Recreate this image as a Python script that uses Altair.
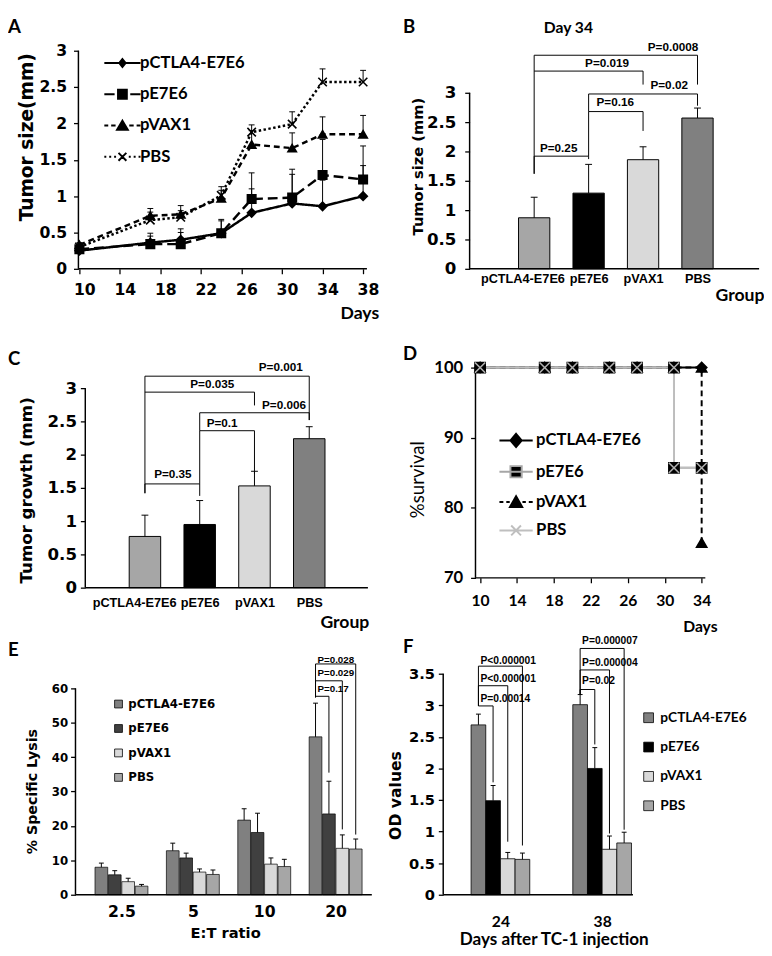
import json
import altair as alt
import pandas as pd

GROUPS = ["pCTLA4-E7E6", "pE7E6", "pVAX1", "PBS"]

# ---------------- Panel A : tumor size over time ----------------
A_DAYS = [10, 17, 20, 24, 27, 31, 34, 38]
A_CTLA4 = [0.25, 0.36, 0.40, 0.49, 0.77, 0.90, 0.86, 1.00]
A_E7E6 = [0.27, 0.34, 0.34, 0.49, 0.96, 0.98, 1.29, 1.23]
A_VAX1 = [0.33, 0.73, 0.75, 0.97, 1.71, 1.66, 1.85, 1.85]
A_PBS = [0.30, 0.67, 0.71, 1.01, 1.88, 1.99, 2.57, 2.57]
A_CTLA4_TOP = [0.28, 0.45, 0.50, 0.66, 1.10, 1.30, 1.22, 1.42]
A_E7E6_TOP = [0.30, 0.49, 0.55, 0.68, 1.32, 1.37, 1.78, 1.69]
A_VAX1_TOP = [0.36, 0.83, 0.87, 1.13, 1.90, 1.87, 2.09, 2.11]
A_PBS_TOP = [0.34, 0.78, 0.80, 1.08, 1.98, 2.16, 2.75, 2.73]
A_XTICKS = [10, 14, 18, 22, 26, 30, 34, 38]
A_YTICKS = [0, 0.5, 1, 1.5, 2, 2.5, 3]

# ---------------- Panel B : day 34 ----------------
B_MEAN = [0.87, 1.29, 1.86, 2.57]
B_TOP = [1.22, 1.78, 2.08, 2.74]
B_BR_LABEL = ["P=0.25", "P=0.16", "P=0.02", "P=0.019", "P=0.0008"]
B_BR_X1 = [1, 2, 2, 1, 1]
B_BR_X2 = [2, 3, 4, 3, 4]
B_BR_LEVEL = [1.92, 2.68, 2.98, 3.37, 3.64]
B_BR_LEFT = [1.62, 1.92, 2.68, 3.37, 1.62]
B_BR_RIGHT = [1.87, 2.35, 2.78, 3.14, 3.14]
B_BR_TX = [1.45, 2.49, 3.48, 2.34, 3.55]
B_BR_TY = [2.06, 2.85, 3.13, 3.50, 3.78]

# ---------------- Panel C : tumor growth ----------------
C_MEAN = [0.77, 0.95, 1.53, 2.24]
C_TOP = [1.09, 1.31, 1.75, 2.42]
C_BR_LABEL = ["P=0.35", "P=0.1", "P=0.006", "P=0.035", "P=0.001"]
C_BR_X1 = [1, 2, 2, 1, 1]
C_BR_X2 = [2, 3, 4, 3, 4]
C_BR_LEVEL = [1.56, 2.36, 2.63, 2.94, 3.18]
C_BR_LEFT = [1.42, 1.56, 2.36, 2.94, 1.42]
C_BR_RIGHT = [1.38, 1.71, 2.52, 2.74, 2.52]
C_BR_TX = [1.51, 2.41, 3.54, 2.23, 3.48]
C_BR_TY = [1.71, 2.47, 2.74, 3.06, 3.31]

# ---------------- Panel D : survival ----------------
D_CTLA4_DAYS = [10, 17, 20, 24, 27, 31, 34]
D_CTLA4_SURV = [100, 100, 100, 100, 100, 100, 100]
D_E7E6_DAYS = [10, 17, 20, 24, 27, 31, 31, 34]
D_E7E6_SURV = [100, 100, 100, 100, 100, 100, 85.7, 85.7]
D_VAX1_DAYS = [10, 17, 20, 24, 27, 31, 34, 34]
D_VAX1_SURV = [100, 100, 100, 100, 100, 100, 100, 75]
D_PBS_DAYS = [10, 17, 20, 24, 27, 31, 31, 34]
D_PBS_SURV = [100, 100, 100, 100, 100, 100, 85.7, 85.7]
D_XTICKS = [10, 14, 18, 22, 26, 30, 34]
D_YTICKS = [70, 80, 90, 100]

# ---------------- Panel E : CTL lysis ----------------
E_RATIO = ["2.5", "5", "10", "20"]
E_CTLA4 = [8.0, 12.8, 21.7, 45.9]
E_E7E6 = [5.8, 10.7, 18.1, 23.5]
E_VAX1 = [3.8, 6.6, 8.9, 13.5]
E_PBS = [2.5, 5.9, 8.2, 13.3]
E_CTLA4_TOP = [9.2, 15.0, 25.0, 55.7]
E_E7E6_TOP = [7.0, 12.1, 23.7, 33.0]
E_VAX1_TOP = [4.8, 7.5, 10.7, 17.4]
E_PBS_TOP = [3.0, 7.2, 10.3, 16.2]
E_YTICKS = [0, 10, 20, 30, 40, 50, 60]
E_BR_LABEL = ["P=0.17", "P=0.029", "P=0.028"]
E_BR_TO = [1, 2, 3]
E_BR_LEVEL = [57.7, 62.2, 67.1]
E_BR_LEFT = [57.4, 57.4, 57.4]
E_BR_RIGHT = [35.5, 19.0, 17.5]
E_BR_TY = [59.8, 64.5, 68.3]

# ---------------- Panel F : OD values ----------------
F_DAYS = ["24", "38"]
F_CTLA4 = [2.69, 3.01]
F_E7E6 = [1.49, 2.00]
F_VAX1 = [0.57, 0.72]
F_PBS = [0.56, 0.82]
F_CTLA4_TOP = [2.86, 3.17]
F_E7E6_TOP = [1.73, 2.33]
F_VAX1_TOP = [0.67, 0.93]
F_PBS_TOP = [0.66, 0.99]
F_YTICKS = [0, 0.5, 1, 1.5, 2, 2.5, 3, 3.5]
F_BR_LABEL = ["P=0.00014", "P<0.000001", "P<0.000001", "P=0.02", "P=0.000004", "P=0.000007"]
F_BR_GROUP = [0, 0, 0, 1, 1, 1]
F_BR_TO = [1, 2, 3, 1, 2, 3]
F_BR_LEVEL = [2.99, 3.31, 3.62, 3.25, 3.56, 3.90]
F_BR_LEFT = [2.99, 2.99, 2.99, 3.17, 3.17, 3.17]
F_BR_RIGHT = [1.78, 0.84, 0.78, 2.38, 0.97, 1.03]
F_BR_TY = [3.10, 3.41, 3.70, 3.39, 3.67, 4.01]

# ---------------- styling helpers ----------------
DV = "DejaVu Sans"
LATO = "Lato"
LIB = "Liberation Sans"
NARROW = "Liberation Sans Narrow, Liberation Sans"
BLACK = "black"
LETTER_Y = -33
NUM_FMT = ".1~f"


def lin(lo, hi):
    return alt.Scale(domain=[lo, hi], nice=False, zero=False)


def y_axis(values, title, lfont, lsize, tfont, tsize, tx, ty, offset, lpad, tweight="bold"):
    return alt.Axis(values=values, format=NUM_FMT, domain=False, grid=False, ticks=True,
                    tickSize=5, tickWidth=1.3, tickColor=BLACK,
                    labelFont=lfont, labelFontSize=lsize, labelFontWeight="bold",
                    labelColor=BLACK, labelPadding=lpad, labelFlush=False, labelOverlap=False,
                    title=title, titleFont=tfont, titleFontSize=tsize, titleFontWeight=tweight,
                    titleColor=BLACK, titleX=tx, titleY=ty, titleAngle=270,
                    titleAlign="center", titleBaseline="middle", offset=offset)


def x_axis(values, title, lfont, lsize, tfont, tsize, tx, ty, lpad, ticks=True,
           label_expr=None, talign="right", tbaseline="top", loffset=0):
    kw = dict(values=values, domain=False, grid=False, ticks=ticks, tickSize=5,
              tickWidth=1.3, tickColor=BLACK, labelFont=lfont, labelFontSize=lsize,
              labelFontWeight="bold", labelColor=BLACK, labelPadding=lpad, labelAngle=0,
              labelFlush=False, labelOverlap=False, labelOffset=loffset,
              title=title, titleFont=tfont, titleFontSize=tsize, titleFontWeight="bold",
              titleColor=BLACK, titleX=tx, titleY=ty, titleAlign=talign,
              titleBaseline=tbaseline)
    if label_expr:
        kw["labelExpr"] = label_expr
    else:
        kw["format"] = NUM_FMT
    return alt.Axis(**kw)


def lab_expr(labels, base):
    return json.dumps(labels) + f"[round(datum.value) - {base}]"


def first_label_shift(px):
    return {"condition": {"test": "datum.value < 1.5", "value": px}, "value": 0}


class Panel:
    """Holds one panel's shared scales and axes so every layer uses identical ones."""

    def __init__(self, xs, ys, ax, ay):
        self.xs, self.ys, self.ax, self.ay = xs, ys, ax, ay

    def X(self, f):
        return alt.X(f, type="quantitative", scale=self.xs, axis=self.ax)

    def Y(self, f):
        return alt.Y(f, type="quantitative", scale=self.ys, axis=self.ay)


def frame(p, x0, x1, y0, y1, sw=1.5):
    df = pd.DataFrame({"x0": [x0], "x1": [x1], "y0": [y0], "y1": [y1]})
    base = alt.Chart(df)
    yl = base.mark_rule(color=BLACK, strokeWidth=sw).encode(
        x=p.X("x0"), y=p.Y("y0"), y2="y1:Q")
    xl = base.mark_rule(color=BLACK, strokeWidth=sw).encode(
        x=p.X("x0"), x2="x1:Q", y=p.Y("y0"))
    return [yl, xl]


def err_layers(df, p, xf, capw, sw=1.0):
    r = alt.Chart(df).mark_rule(color=BLACK, strokeWidth=sw).encode(
        x=p.X(xf), y=p.Y("value"), y2="top:Q")
    c = alt.Chart(df).mark_point(shape="M-1,0L1,0", size=capw * capw, filled=False,
                                 color=BLACK, strokeWidth=sw, opacity=1).encode(
        x=p.X(xf), y=p.Y("top"))
    return [r, c]


def brackets(p, x1, x2, level, left, right, tx, ty, labels, font, size, align, dx):
    df = pd.DataFrame({"x1": x1, "x2": x2, "level": level, "left": left, "right": right,
                       "tx": tx, "ty": ty, "label": labels})
    base = alt.Chart(df)
    h = base.mark_rule(color=BLACK, strokeWidth=1).encode(
        x=p.X("x1"), x2="x2:Q", y=p.Y("level"))
    lft = base.mark_rule(color=BLACK, strokeWidth=1).encode(
        x=p.X("x1"), y=p.Y("level"), y2="left:Q")
    rgt = base.mark_rule(color=BLACK, strokeWidth=1).encode(
        x=p.X("x2"), y=p.Y("level"), y2="right:Q")
    txt = base.mark_text(font=font, fontSize=size, fontWeight="bold", color=BLACK,
                         align=align, baseline="middle", dx=dx).encode(
        x=p.X("tx"), y=p.Y("ty"), text="label:N")
    return [h, lft, rgt, txt]


def letter(t, px, py):
    return alt.Chart(pd.DataFrame({"t": [t]})).mark_text(
        align="left", baseline="top", font=LATO, fontSize=19, fontWeight="bold",
        color=BLACK).encode(text="t:N", x=alt.value(px), y=alt.value(py))


# ================= Panel A =================
a_rows = []
for name, vals, tops in zip(GROUPS, [A_CTLA4, A_E7E6, A_VAX1, A_PBS],
                            [A_CTLA4_TOP, A_E7E6_TOP, A_VAX1_TOP, A_PBS_TOP]):
    for d, v, t in zip(A_DAYS, vals, tops):
        a_rows.append({"series": name, "day": d, "value": v, "top": t})
df_a = pd.DataFrame(a_rows)
pA = Panel(lin(9.614, 38.378), lin(0, 3),
           x_axis(A_XTICKS, "Days", DV, 16, LATO, 18, 310, 37, 8, True, loffset=5),
           y_axis(A_YTICKS, "Tumor size(mm)", DV, 16, DV, 19, -53, 88, -3, 7))

X_PATH = "M-1,-1L1,1M-1,1L1,-1"
# legend glyphs: line pattern + marker (unit = 5 px)
A_LEG_PATHS = [
    "M-3.7,0L3.7,0M0,-0.8L0.65,0L0,0.8L-0.65,0Z",
    "M-3.7,0L-1.6,0M1.6,0L3.7,0M-0.9,-0.9L0.9,-0.9L0.9,0.9L-0.9,0.9Z",
    "M-3.7,0L-2.9,0M-2.3,0L-1.4,0M1.4,0L2.3,0M2.9,0L3.7,0M0,-1L1.1,0.85L-1.1,0.85Z",
    "M-3.7,0L-3.3,0M-2.7,0L-2.3,0M-1.7,0L-1.3,0M1.3,0L1.7,0M2.3,0L2.7,0M3.3,0L3.7,0"
    "M-0.8,-0.8L0.8,0.8M-0.8,0.8L0.8,-0.8",
]
A_LEG_COLORS = ["black", "black", "black", "black"]
legA = alt.Legend(orient="none", legendX=39.5, legendY=4, title=None, direction="vertical",
                  symbolSize=100, symbolStrokeWidth=2, symbolOpacity=1,
                  labelFont=LATO, labelFontSize=17, labelFontWeight="bold", labelColor=BLACK,
                  labelOffset=9.5, rowPadding=14, padding=0)

a_lines = alt.Chart(df_a).mark_line(color=BLACK, strokeWidth=2.5).encode(
    x=pA.X("day"), y=pA.Y("value"),
    strokeDash=alt.StrokeDash("series:N", scale=alt.Scale(domain=GROUPS,
                              range=[[1, 0], [10, 5], [6, 4], [2.5, 2.5]]), legend=None),
    detail="series:N")
a_points = alt.Chart(df_a).mark_point(filled=True, size=75, color=BLACK, stroke=BLACK,
                                      strokeWidth=1.6, opacity=1).encode(
    x=pA.X("day"), y=pA.Y("value"),
    shape=alt.Shape("series:N", scale=alt.Scale(domain=GROUPS,
                    range=["diamond", "square", "triangle-up", X_PATH]), legend=None))
a_legend = alt.Chart(df_a).transform_filter("false").mark_point(
    filled=True, size=100, strokeWidth=2, opacity=1).encode(
    x=pA.X("day"), y=pA.Y("value"),
    fill=alt.Fill("series:N", scale=alt.Scale(domain=GROUPS, range=A_LEG_COLORS), legend=legA),
    stroke=alt.Stroke("series:N", scale=alt.Scale(domain=GROUPS, range=A_LEG_COLORS), legend=legA),
    shape=alt.Shape("series:N", scale=alt.Scale(domain=GROUPS, range=A_LEG_PATHS), legend=legA))
panelA = alt.layer(
    a_lines, *frame(pA, 9.9035, 38.378, 0, 3),
    *err_layers(df_a, pA, "day", 6),
    a_points, a_legend, letter("A", -69, LETTER_Y),
).resolve_scale(shape="independent", fill="independent", stroke="independent"
                ).properties(width=298, height=223)


# ================= Panels B and C (bar charts) =================
def bar_panel(means, tops, colors, p, br, ax0, ax1, extra):
    df = pd.DataFrame({"series": GROUPS, "pos": [1, 2, 3, 4], "value": means, "top": tops})
    half = 0.2874
    bars = alt.Chart(df).transform_calculate(
        xa=f"datum.pos - {half}", xb=f"datum.pos + {half}", base="0").mark_bar(
        stroke=BLACK, strokeWidth=1).encode(
        x=p.X("xa"), x2="xb:Q", y=p.Y("value"), y2="base:Q",
        fill=alt.Fill("series:N", scale=alt.Scale(domain=GROUPS, range=colors), legend=None))
    return [bars, *frame(p, ax0, ax1, 0, 3), *err_layers(df, p, "pos", 7),
            *brackets(p, *br, LIB, 12, "center", 0), *extra]


BAR_COLORS = ["#a6a6a6", "#000000", "#d9d9d9", "#808080"]
pB = Panel(lin(-0.6706, 5.1316), lin(0, 3.717),
           x_axis([1, 2, 3, 4], "Group", LIB, 13, LATO, 18, 328, 18, 4, False,
                  label_expr=lab_expr(GROUPS, 1), loffset=first_label_shift(-12)),
           y_axis(A_YTICKS, "Tumor size (mm)", DV, 17, DV, 15, -53, 118, -27, 9))
day34 = alt.Chart(pd.DataFrame({"t": ["Day 34"]})).mark_text(
    font=LATO, fontSize=16, fontWeight="bold", color=BLACK, align="center",
    baseline="middle").encode(text="t:N", x=alt.value(128), y=alt.value(-23))
panelB = alt.layer(*bar_panel(
    B_MEAN, B_TOP, BAR_COLORS, pB,
    (B_BR_X1, B_BR_X2, B_BR_LEVEL, B_BR_LEFT, B_BR_RIGHT, B_BR_TX, B_BR_TY, B_BR_LABEL),
    -0.1856, 5.1316, [day34, letter("B", -41, LETTER_Y)])).properties(width=323, height=223)

pC = Panel(lin(-0.268, 5.071), lin(0, 3.5),
           x_axis([1, 2, 3, 4], "Group", LIB, 13, LATO, 18, 300, 27, 9, False,
                  label_expr=lab_expr(GROUPS, 1), loffset=first_label_shift(-11)),
           y_axis(A_YTICKS, "Tumor growth (mm)", DV, 17, DV, 17, -60, 138, -10, 4))
panelC = alt.layer(*bar_panel(
    C_MEAN, C_TOP, BAR_COLORS, pC,
    (C_BR_X1, C_BR_X2, C_BR_LEVEL, C_BR_LEFT, C_BR_RIGHT, C_BR_TX, C_BR_TY, C_BR_LABEL),
    -0.089, 5.071, [letter("C", -69, -5)])).properties(width=299, height=238)

# ================= Panel D =================
d_rows = []
for name, days, surv in zip(GROUPS, [D_CTLA4_DAYS, D_E7E6_DAYS, D_VAX1_DAYS, D_PBS_DAYS],
                            [D_CTLA4_SURV, D_E7E6_SURV, D_VAX1_SURV, D_PBS_SURV]):
    for i, (d, s) in enumerate(zip(days, surv)):
        d_rows.append({"series": name, "day": d, "surv": s, "i": i})
df_d = pd.DataFrame(d_rows)
pD = Panel(lin(6.006, 34.396), lin(70, 101.81),
           x_axis(D_XTICKS, "Days", LATO, 16, LATO, 16, 280, 42, 10, True),
           y_axis(D_YTICKS, "%survival", LATO, 17, LATO, 19, -59, 127, -33, 8, tweight="normal"))
D_LINE_COLOR = {"pCTLA4-E7E6": "#000000", "pE7E6": "#a6a6a6", "pVAX1": "#000000", "PBS": "#bfbfbf"}
D_LINE_DASH = {"pCTLA4-E7E6": [1, 0], "pE7E6": [1, 0], "pVAX1": [6, 4], "PBS": [1, 0]}
d_lines = []
for name in ["pCTLA4-E7E6", "pVAX1", "pE7E6", "PBS"]:
    d_lines.append(alt.Chart(df_d).transform_filter(alt.datum.series == name).mark_line(
        color=D_LINE_COLOR[name], strokeWidth=2, strokeDash=D_LINE_DASH[name]).encode(
        x=pD.X("day"), y=pD.Y("surv"), order="i:Q"))

D_LEG_PATHS = [
    "M-3.4,0L3.4,0M0,-1.35L1.15,0L0,1.35L-1.15,0Z",
    "M-3.4,0L3.4,0M-1.15,-1.15L1.15,-1.15L1.15,1.15L-1.15,1.15Z",
    "M-3.4,0L-2.6,0M-2,0L-1.3,0M1.3,0L2,0M2.6,0L3.4,0M0,-1.2L1.25,1L-1.25,1Z",
    "M-3.4,0L3.4,0M-1,-1L1,1M-1,1L1,-1",
]
D_LEG_FILL = ["black", "black", "black", "#bfbfbf"]
D_LEG_STROKE = ["black", "#a6a6a6", "black", "#bfbfbf"]
legD = alt.Legend(orient="none", legendX=66, legendY=79, title=None, direction="vertical",
                  symbolSize=100, symbolStrokeWidth=2, symbolOpacity=1,
                  labelFont=LATO, labelFontSize=17, labelFontWeight="bold", labelColor=BLACK,
                  labelOffset=12, rowPadding=10, padding=0)
D_MARK_COLORS = ["black", "black", "black", "#b0b0b0"]
d_points = alt.Chart(df_d).mark_point(filled=True, size=110, strokeWidth=1.6, opacity=1).encode(
    x=pD.X("day"), y=pD.Y("surv"),
    fill=alt.Fill("series:N", scale=alt.Scale(domain=GROUPS, range=D_MARK_COLORS), legend=None),
    stroke=alt.Stroke("series:N", scale=alt.Scale(domain=GROUPS, range=D_MARK_COLORS), legend=None),
    shape=alt.Shape("series:N", scale=alt.Scale(domain=GROUPS,
                    range=["diamond", "square", "triangle-up", X_PATH]), legend=None))
d_legend = alt.Chart(df_d).transform_filter("false").mark_point(
    filled=True, size=100, strokeWidth=2, opacity=1).encode(
    x=pD.X("day"), y=pD.Y("surv"),
    fill=alt.Fill("series:N", scale=alt.Scale(domain=GROUPS, range=D_LEG_FILL), legend=legD),
    stroke=alt.Stroke("series:N", scale=alt.Scale(domain=GROUPS, range=D_LEG_STROKE), legend=legD),
    shape=alt.Shape("series:N", scale=alt.Scale(domain=GROUPS, range=D_LEG_PATHS), legend=legD))
panelD = alt.layer(*d_lines, *frame(pD, 9.502, 34.396, 70, 100), d_points, d_legend,
                   letter("D", -41, -10)).resolve_scale(
    shape="independent", fill="independent", stroke="independent").properties(width=268, height=228)


# ================= Panels E and F (grouped bars) =================
def grouped_df(series_vals, series_tops, step):
    rows = []
    for k, (name, vals, tops) in enumerate(zip(GROUPS, series_vals, series_tops)):
        for g, (v, t) in enumerate(zip(vals, tops)):
            rows.append({"series": name, "g": g, "k": k, "value": v, "top": t,
                         "pos": g + (k - 1.5) * step})
    return pd.DataFrame(rows)


E_STEP = 0.1877
df_e = grouped_df([E_CTLA4, E_E7E6, E_VAX1, E_PBS],
                  [E_CTLA4_TOP, E_E7E6_TOP, E_VAX1_TOP, E_PBS_TOP], E_STEP)
pE = Panel(lin(-0.644, 3.507), lin(0, 64.26),
           x_axis([0, 1, 2, 3], "E:T ratio", DV, 16, DV, 15, 153, 39, 9, False,
                  label_expr=lab_expr(E_RATIO, 0), talign="center", tbaseline="middle"),
           y_axis(E_YTICKS, "% Specific Lysis", DV, 12, DV, 14.5, -44, 120, 0, 3))
E_COLORS = ["#808080", "#404040", "#d9d9d9", "#a6a6a6"]
legE = alt.Legend(orient="none", legendX=38, legendY=25, title=None, direction="vertical",
                  symbolType="square", symbolSize=64, symbolStrokeColor=BLACK,
                  symbolStrokeWidth=0.8, symbolOpacity=1,
                  labelFont=DV, labelFontSize=12, labelFontWeight="bold", labelColor=BLACK,
                  labelOffset=4, rowPadding=13, padding=0)
e_bars = alt.Chart(df_e).transform_calculate(
    xa="datum.pos - 0.089", xb="datum.pos + 0.089", base="0").mark_bar(
    stroke=BLACK, strokeWidth=0.7).encode(
    x=pE.X("xa"), x2="xb:Q", y=pE.Y("value"), y2="base:Q",
    fill=alt.Fill("series:N", scale=alt.Scale(domain=GROUPS, range=E_COLORS), legend=legE))
e_x1 = [3 + (0 - 1.5) * E_STEP for _ in E_BR_TO]
e_x2 = [3 + (k - 1.5) * E_STEP for k in E_BR_TO]
panelE = alt.layer(
    e_bars, *frame(pE, -0.644, 3.507, 0, 60), *err_layers(df_e, pE, "pos", 5),
    *brackets(pE, e_x1, e_x2, E_BR_LEVEL, E_BR_LEFT, E_BR_RIGHT, e_x1, E_BR_TY,
              E_BR_LABEL, NARROW, 10, "left", 2),
    letter("E", -69, LETTER_Y)).properties(width=303, height=226)

F_STEP = 0.1442
df_f = grouped_df([F_CTLA4, F_E7E6, F_VAX1, F_PBS],
                  [F_CTLA4_TOP, F_E7E6_TOP, F_VAX1_TOP, F_PBS_TOP], F_STEP)
pF = Panel(lin(-0.5625, 1.3029), lin(0, 3.5),
           x_axis([0, 1], "Days after TC-1 injection", LATO, 16, LATO, 17.5, 113, 46, 19,
                  False, label_expr=lab_expr(F_DAYS, 0), talign="center", tbaseline="middle"),
           y_axis(F_YTICKS, "OD values", DV, 15, DV, 16, -49, 124, 0, 4))
F_COLORS = ["#808080", "#000000", "#d9d9d9", "#a6a6a6"]
legF = alt.Legend(orient="none", legendX=203, legendY=38, title=None, direction="vertical",
                  symbolType="square", symbolSize=100, symbolStrokeColor=BLACK,
                  symbolStrokeWidth=0.8, symbolOpacity=1,
                  labelFont=LATO, labelFontSize=14, labelFontWeight="bold", labelColor=BLACK,
                  labelOffset=5, rowPadding=16, padding=0)
f_bars = alt.Chart(df_f).transform_calculate(
    xa="datum.pos - 0.0721", xb="datum.pos + 0.0721", base="0").mark_bar(
    stroke=BLACK, strokeWidth=0.8).encode(
    x=pF.X("xa"), x2="xb:Q", y=pF.Y("value"), y2="base:Q",
    fill=alt.Fill("series:N", scale=alt.Scale(domain=GROUPS, range=F_COLORS), legend=legF))
f_x1 = [g + (0 - 1.5) * F_STEP for g in F_BR_GROUP]
f_x2 = [g + (k - 1.5) * F_STEP for g, k in zip(F_BR_GROUP, F_BR_TO)]
panelF = alt.layer(
    f_bars, *frame(pF, -0.5625, 1.3029, 0, 3.5), *err_layers(df_f, pF, "pos", 5),
    *brackets(pF, f_x1, f_x2, F_BR_LEVEL, F_BR_LEFT, F_BR_RIGHT, f_x1, F_BR_TY,
              F_BR_LABEL, NARROW, 10.5, "left", 2),
    letter("F", -41, -36)).properties(width=194, height=226)

chart = alt.concat(panelA, panelB, panelC, panelD, panelE, panelF, columns=2,
                   spacing={"row": 88, "column": 73}, bounds="flush", align="each"
                   ).resolve_scale(fill="independent", stroke="independent",
                                   shape="independent", strokeDash="independent"
                   ).resolve_legend(fill="independent", stroke="independent",
                                    shape="independent", strokeDash="independent"
                   ).configure_view(stroke=None).properties(padding=0, background="white")

chart.save("out.html", embed_options={"renderer": "svg", "actions": False})
